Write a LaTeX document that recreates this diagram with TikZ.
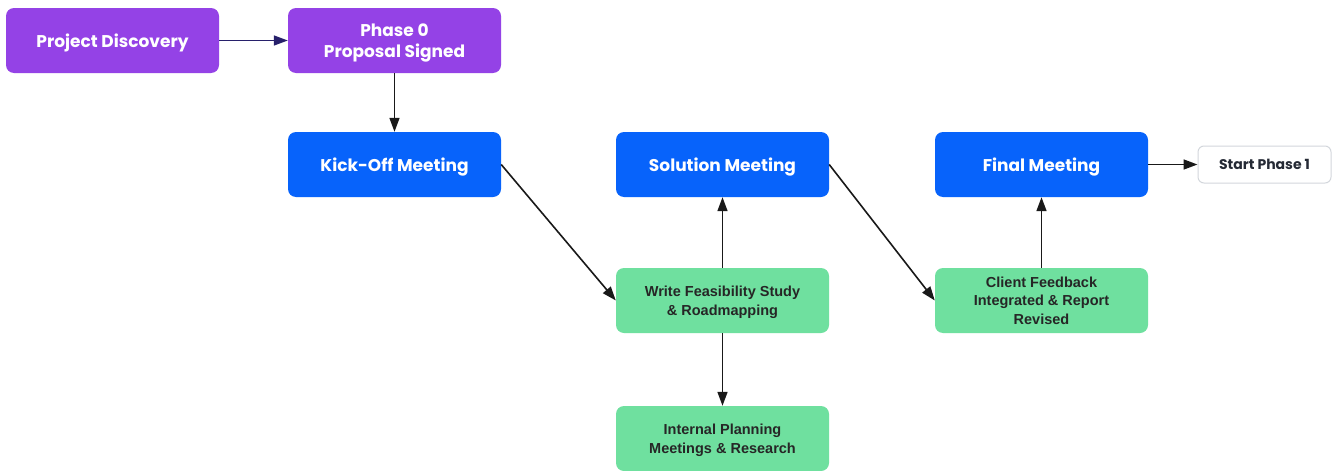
\documentclass[tikz,border=0pt]{standalone}
\usepackage{fontspec}
\setmainfont{Liberation Sans}
\newfontfamily\headfont{Poppins}
\usetikzlibrary{arrows.meta}
\definecolor{purp}{HTML}{9442E6}
\definecolor{blu}{HTML}{0763FB}
\definecolor{grn}{HTML}{6FE09F}
\definecolor{gbord}{HTML}{D3D7DC}
\definecolor{navy}{HTML}{27206B}
\definecolor{dtext}{HTML}{252A35}
\tikzset{
  box/.style={rectangle, rounded corners=8pt, minimum width=213pt, minimum height=65pt, inner sep=0pt, align=center},
  purplebox/.style={box, fill=purp},
  bluebox/.style={box, fill=blu},
  greenbox/.style={box, fill=grn},
  headtxt/.style={text=white, align=center, inner sep=0pt, yshift=-2.5pt, font=\headfont\bfseries\fontsize{17}{20.5}\selectfont},
  greentxt/.style={text=black!85, align=center, inner sep=0pt, yshift=-2pt, font=\bfseries\fontsize{14.5}{18.5}\selectfont},
  whitebox/.style={rectangle, rounded corners=6pt, minimum width=133pt, minimum height=37pt, inner sep=0pt, draw=gbord, line width=1pt, fill=white, text=dtext, font=\headfont\bfseries\fontsize{14}{16}\selectfont},
  conn/.style={line width=1.6pt, -{Triangle[length=14pt,width=10pt]}, black!90},
}
\begin{document}
\begin{tikzpicture}[x=1pt,y=-1pt]
\useasboundingbox (0,0) rectangle (1333,471);
\fill[white] (0,0) rectangle (1333,471);
\node[purplebox, label={[headtxt]center:{Project Discovery}}] (disc) at (112.5,40.5) {};
\node[purplebox, label={[headtxt]center:{Phase 0\\Proposal Signed}}] (phase) at (394.5,40.5) {};
\node[bluebox, label={[headtxt]center:{Kick-Off Meeting}}] (kick) at (394.5,164.5) {};
\node[bluebox, label={[headtxt]center:{Solution Meeting}}] (sol) at (722.5,164.5) {};
\node[bluebox, label={[headtxt]center:{Final Meeting}}] (final) at (1041.5,164.5) {};
\node[whitebox] (start) at (1264.5,164.5) {Start Phase 1};
\node[greenbox, label={[greentxt]center:{Write Feasibility Study\\\& Roadmapping}}] (write) at (722.5,300.5) {};
\node[greenbox, label={[greentxt, yshift=2pt]center:{Client Feedback\\Integrated \& Report\\Revised}}] (client) at (1041.5,300.5) {};
\node[greenbox, label={[greentxt]center:{Internal Planning\\Meetings \& Research}}] (internal) at (722.5,438.5) {};
\draw[conn, navy] (disc) -- (phase);
\draw[conn] (phase) -- (kick);
\draw[conn] (kick.east) -- (write.west);
\draw[conn] (write) -- (sol);
\draw[conn] (write) -- (internal);
\draw[conn] (sol.east) -- (client.west);
\draw[conn] (client) -- (final);
\draw[conn] (final) -- (start);
\end{tikzpicture}
\end{document}
